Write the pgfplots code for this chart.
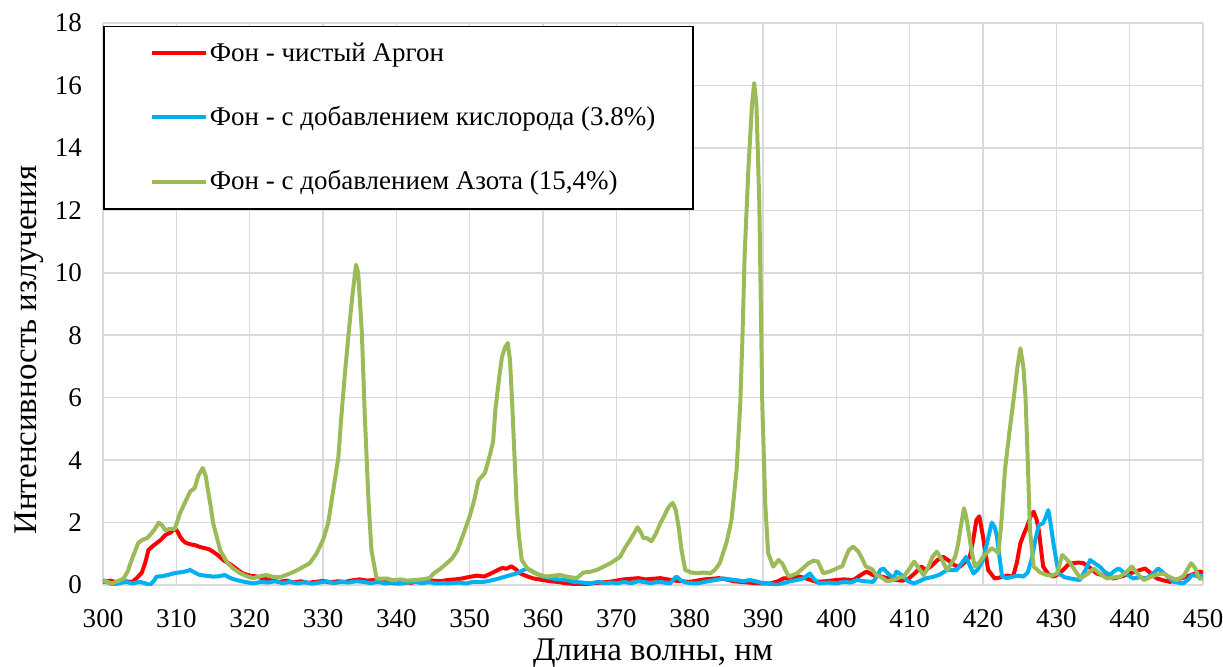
\documentclass[border=0pt]{standalone}
\usepackage{fontspec}
\setmainfont{Liberation Serif}
\usepackage{pgfplots}
\pgfplotsset{compat=1.18}
\definecolor{cAr}{HTML}{FF0000}
\definecolor{cO}{HTML}{00B0F0}
\definecolor{cN}{HTML}{9BBB59}
\definecolor{cGrid}{HTML}{D9D9D9}
\begin{document}
\begin{tikzpicture}
\begin{axis}[
  scale only axis,
  width=550pt, height=281pt,
  xmin=300, xmax=450, ymin=0, ymax=18,
  xtick={300,310,...,450}, ytick={0,2,...,18},
  grid=major,
  major grid style={draw=cGrid, line width=0.8pt},
  axis line style={draw=none},
  major tick length=0pt,
  tick label style={font=\fontsize{13.5}{16}\selectfont},
  /pgf/number format/assume math mode=true,
  /pgf/number format/.cd, set thousands separator={}, fixed, /pgfplots/.cd,
  yticklabel style={xshift=-7pt},
  xticklabel style={anchor=base, yshift=-21pt},
  xlabel={Длина волны, нм},
  ylabel={Интенсивность излучения},
  label style={font=\fontsize{16.5}{19}\selectfont},
  xlabel style={at={([yshift=-37.5pt]axis description cs:0.5,0)}, anchor=base},
  ylabel style={at={([xshift=-33pt]axis description cs:0,0.418)}, anchor=base, rotate=0},
  legend cell align=left,
  legend style={at={(0,0.995)}, anchor=north west, draw=black, line width=0.8pt, fill=white,
    inner xsep=18pt, inner ysep=6pt, row sep=17pt,
    nodes={inner xsep=1pt},
    font=\fontsize{13.5}{16}\selectfont},
  legend image code/.code={\path (0pt,0pt); \draw[#1, line width=2pt] (5pt,0pt) -- (32pt,0pt);},
  every axis plot/.append style={line width=2pt, line join=round},
]
\addplot[cAr] coordinates {
(300,0.10)(301,0.14)(302,0.08)(303,0.12)(304,0.10)(304.6,0.22)(305.3,0.40)(305.8,0.75)(306.2,1.12)(306.8,1.25)
(307.3,1.34)(307.9,1.45)(308.5,1.60)(309.2,1.68)(309.8,1.82)(310.2,1.70)(310.5,1.55)(311,1.40)(311.4,1.34)(312,1.30)
(312.5,1.28)(313.2,1.22)(313.9,1.18)(314.4,1.15)(315,1.07)(315.7,0.95)(316.4,0.80)(317.1,0.70)(317.8,0.59)(318.4,0.48)
(319.1,0.37)(320,0.30)(321,0.27)(322,0.20)(323,0.15)(324,0.10)(325,0.14)(326,0.08)(327,0.12)(328,0.07)
(329,0.10)(330,0.13)(331,0.08)(332,0.12)(333,0.10)(334,0.15)(335,0.18)(336,0.14)(337,0.16)(338,0.10)
(339,0.08)(340,0.05)(341,0.10)(342,0.07)(343,0.12)(344,0.10)(345,0.14)(346,0.12)(347,0.16)(348,0.18)
(349,0.21)(350,0.26)(351,0.30)(352,0.27)(353,0.38)(354,0.50)(354.5,0.55)(355,0.52)(355.7,0.60)(356.3,0.50)
(356.9,0.37)(357.8,0.28)(358.7,0.21)(360,0.16)(361,0.12)(362,0.10)(363,0.06)(364,0.04)(365.5,0.02)(367,0.06)
(368,0.08)(369,0.10)(370,0.14)(371,0.18)(372,0.20)(373,0.22)(374,0.18)(375,0.20)(376,0.22)(377,0.18)
(378,0.14)(379,0.12)(380,0.10)(381,0.14)(382,0.18)(383,0.20)(384,0.22)(385,0.18)(386,0.12)(387,0.10)
(388,0.08)(389,0.06)(390,0.05)(391,0.05)(392,0.12)(392.8,0.21)(394,0.24)(395,0.27)(396,0.20)(397.3,0.10)
(398.5,0.12)(400,0.16)(401,0.18)(402.3,0.16)(403.2,0.30)(404.1,0.43)(405,0.32)(406,0.28)(407,0.22)(408.2,0.16)
(409,0.14)(409.9,0.21)(410.8,0.40)(411.6,0.59)(412.2,0.48)(413,0.62)(413.8,0.80)(414.6,0.90)(415.5,0.75)(416.2,0.62)
(416.9,0.59)(417.6,0.75)(418.2,0.90)(418.7,1.50)(419.1,2.08)(419.5,2.20)(420,1.55)(420.7,0.48)(421.6,0.21)(422.5,0.25)
(423.3,0.30)(424.1,0.27)(424.6,0.70)(425.1,1.34)(425.6,1.65)(426,1.87)(426.5,2.20)(426.9,2.35)(427.3,2.10)(427.6,1.76)
(428.2,0.59)(428.9,0.35)(429.6,0.27)(430.3,0.35)(431,0.50)(431.6,0.65)(432.3,0.70)(433,0.72)(433.7,0.70)(434.6,0.55)
(435.5,0.37)(436.5,0.30)(437.8,0.21)(439,0.28)(440,0.37)(441,0.45)(442.1,0.53)(443,0.35)(443.7,0.21)(444.6,0.15)
(445.5,0.10)(446.5,0.18)(447.8,0.27)(448.7,0.35)(449.6,0.43)(450,0.40)
};
\addlegendentry{Фон - чистый Аргон}
\addplot[cO] coordinates {
(300,0.16)(300.7,0.08)(301.4,0.00)(302.2,0.06)(303.2,0.10)(304,0.05)(305,0.10)(305.7,0.06)(306.4,0.00)(307,0.15)
(307.3,0.27)(308,0.28)(308.8,0.32)(309.6,0.37)(310.3,0.40)(311,0.42)(311.9,0.48)(312.5,0.40)(313.2,0.32)(314,0.30)
(315,0.27)(315.8,0.28)(316.6,0.32)(317.4,0.22)(318.2,0.16)(319.3,0.10)(320.5,0.05)(321.5,0.10)(322.5,0.08)(323.5,0.12)
(324.5,0.06)(325.5,0.10)(326.5,0.05)(327.5,0.09)(328.5,0.04)(329.5,0.08)(330.5,0.12)(331.5,0.06)(332.5,0.10)(333.5,0.08)
(334.5,0.12)(335.5,0.10)(336.5,0.06)(337.5,0.10)(338.5,0.05)(339.5,0.08)(340.5,0.04)(341.5,0.08)(342.5,0.10)(343.5,0.06)
(344.5,0.09)(345.5,0.05)(346.5,0.06)(347.3,0.05)(348.5,0.08)(349.5,0.05)(350.5,0.10)(351.9,0.10)(353,0.15)(354,0.21)
(355,0.28)(356.4,0.37)(357.1,0.45)(357.8,0.53)(358.8,0.40)(360,0.27)(361,0.22)(362,0.18)(363.2,0.16)(364.2,0.10)
(365.3,0.08)(366.4,0.05)(367.5,0.10)(368.5,0.06)(369.5,0.08)(370.1,0.05)(371,0.10)(372,0.06)(373,0.12)(373.7,0.10)
(374.7,0.06)(375.7,0.10)(376.5,0.08)(377.3,0.05)(377.8,0.18)(378.2,0.27)(378.8,0.15)(379.5,0.08)(380.3,0.06)(381,0.05)
(382,0.10)(383,0.14)(384,0.18)(384.6,0.21)(385.5,0.18)(386.5,0.15)(387.3,0.12)(388.2,0.16)(389,0.12)(390,0.06)
(391,0.04)(391.9,0.00)(392.8,0.06)(393.7,0.12)(394.6,0.16)(395.5,0.21)(396,0.30)(396.4,0.37)(396.9,0.20)(397.7,0.05)
(398.8,0.08)(400,0.05)(401,0.10)(402,0.08)(402.8,0.16)(403.8,0.12)(405,0.10)(405.6,0.30)(406,0.48)(406.4,0.53)
(407,0.38)(407.8,0.21)(408.2,0.43)(409,0.30)(409.8,0.12)(410.6,0.05)(411.3,0.12)(412.1,0.21)(413,0.25)(414,0.32)
(415.1,0.48)(416.4,0.48)(417.1,0.70)(417.7,0.90)(418.2,0.62)(418.7,0.37)(419.3,0.50)(420,0.80)(420.6,1.40)(421.2,2.00)
(421.6,1.85)(421.9,1.55)(422.3,0.80)(422.6,0.27)(423.3,0.22)(424.1,0.27)(424.8,0.30)(425.5,0.27)(426.1,0.40)(426.6,0.80)
(427.1,1.40)(427.6,1.92)(428.2,1.98)(428.6,2.20)(428.9,2.40)(429.2,2.00)(429.6,1.34)(430.3,0.37)(431.1,0.25)(431.9,0.21)
(432.6,0.18)(433.2,0.16)(433.9,0.45)(434.6,0.80)(435.2,0.70)(435.9,0.59)(436.6,0.42)(437.3,0.32)(437.9,0.45)(438.5,0.53)
(439.5,0.35)(440.5,0.21)(441.4,0.25)(442.3,0.21)(443.1,0.35)(443.9,0.53)(444.8,0.35)(446,0.10)(447.3,0.05)(448,0.18)
(448.5,0.32)(449.6,0.27)(450,0.30)
};
\addlegendentry{Фон - с добавлением кислорода (3.8\%)}
\addplot[cN] coordinates {
(300,0.15)(300.6,0.10)(301.2,0.05)(302,0.12)(302.8,0.20)(303.4,0.45)(303.9,0.80)(304.4,1.10)(304.8,1.35)(305.4,1.45)
(306,1.50)(306.6,1.65)(307.1,1.80)(307.6,2.00)(308.1,1.90)(308.5,1.75)(309.1,1.80)(309.8,1.80)(310.5,2.30)(311.2,2.65)
(311.9,3.00)(312.5,3.10)(313,3.50)(313.6,3.75)(314,3.50)(314.3,3.05)(314.7,2.50)(315,2.00)(315.5,1.55)(316,1.10)
(316.5,0.90)(317,0.70)(317.8,0.52)(318.7,0.38)(319.6,0.28)(320.5,0.22)(321.4,0.28)(322.3,0.32)(323.2,0.26)(324.1,0.25)
(325,0.32)(326,0.42)(326.9,0.53)(327.6,0.62)(328.2,0.70)(329.1,1.00)(330.0,1.44)(330.7,1.98)(331.4,3.04)(332.1,4.10)
(332.5,5.40)(333.0,6.80)(333.5,8.07)(333.9,9.03)(334.1,9.45)(334.5,10.26)(334.8,10.00)(335.3,8.07)(335.7,5.40)(336.2,2.72)
(336.6,1.12)(337.3,0.21)(338,0.20)(338.7,0.21)(339.5,0.15)(340.5,0.18)(341.5,0.14)(342.5,0.16)(343.5,0.18)(344.5,0.22)
(345.1,0.37)(346,0.52)(346.9,0.70)(347.6,0.85)(348.3,1.10)(349.1,1.60)(350,2.20)(350.6,2.70)(351.2,3.35)(352.1,3.60)
(352.8,4.20)(353.2,4.60)(353.5,5.60)(354,6.60)(354.4,7.30)(354.8,7.60)(355.2,7.75)(355.5,7.20)(355.8,5.80)(356.1,4.20)
(356.4,2.60)(356.7,1.60)(357.1,0.80)(357.8,0.55)(358.7,0.40)(359.6,0.32)(360.5,0.27)(361.4,0.30)(362.3,0.32)(363.4,0.26)
(364.6,0.22)(365.5,0.40)(366.4,0.42)(367.3,0.48)(368.2,0.58)(369.2,0.70)(370,0.82)(370.5,0.90)(371.2,1.20)(371.9,1.45)
(372.4,1.65)(372.9,1.85)(373.3,1.70)(373.7,1.50)(374.2,1.50)(374.8,1.40)(375.4,1.65)(376,1.98)(376.5,2.20)(376.9,2.40)
(377.3,2.55)(377.7,2.63)(378.1,2.40)(378.5,1.85)(378.9,1.10)(379.4,0.48)(380.2,0.40)(381,0.38)(382,0.40)(382.8,0.37)
(383.5,0.50)(384.1,0.70)(385,1.34)(385.7,2.08)(386.4,3.69)(386.9,5.82)(387.2,7.96)(387.5,10.6)(388,13.3)(388.5,15.4)
(388.8,16.08)(389.1,15.4)(389.5,12.2)(389.7,9.03)(389.9,5.82)(390.3,2.62)(390.7,1.02)(391.4,0.59)(392.1,0.80)(392.6,0.70)
(393.5,0.27)(394.6,0.37)(395.5,0.55)(396.2,0.70)(396.9,0.78)(397.5,0.75)(398.2,0.38)(398.9,0.42)(399.6,0.48)(400.2,0.55)
(400.8,0.60)(401.3,0.90)(401.7,1.12)(402.3,1.23)(403,1.07)(403.5,0.85)(404,0.60)(404.9,0.50)(405.5,0.30)(406,0.27)
(406.9,0.12)(407.8,0.16)(408.7,0.25)(409.2,0.27)(409.9,0.50)(410.6,0.75)(411.2,0.55)(411.9,0.32)(412.5,0.55)(413.1,0.90)
(413.7,1.07)(414.3,0.85)(415.1,0.48)(415.7,0.70)(416.2,0.90)(416.6,1.30)(416.9,1.76)(417.4,2.46)(417.7,2.20)(418,1.76)
(418.5,1.00)(418.9,0.59)(419.5,0.72)(420,0.90)(420.6,1.05)(421.2,1.18)(421.7,1.10)(422.1,1.02)(422.5,2.00)(423,3.70)
(423.6,4.90)(424.2,6.00)(424.7,7.00)(425.1,7.58)(425.5,7.00)(425.8,6.00)(426.1,4.00)(426.4,1.76)(426.9,0.59)(427.8,0.40)
(428.7,0.32)(429.4,0.30)(430.1,0.37)(430.8,0.96)(431.3,0.85)(431.9,0.70)(432.6,0.45)(433.3,0.21)(434.2,0.35)(435.1,0.53)
(436,0.35)(436.9,0.21)(437.8,0.24)(438.7,0.27)(439.5,0.40)(440.3,0.59)(441.1,0.35)(441.9,0.16)(442.8,0.25)(443.7,0.33)
(444.6,0.37)(445.5,0.25)(446.4,0.16)(447.4,0.30)(448,0.55)(448.4,0.70)(448.9,0.55)(449.5,0.21)(450,0.20)
};
\addlegendentry{Фон - с добавлением Азота (15,4\%)}
\end{axis}
\pgfresetboundingbox
\path ([shift={(-51.5pt,-40.5pt)}]current axis.south west) rectangle ([shift={(10pt,11.5pt)}]current axis.north east);
\end{tikzpicture}
\end{document}
